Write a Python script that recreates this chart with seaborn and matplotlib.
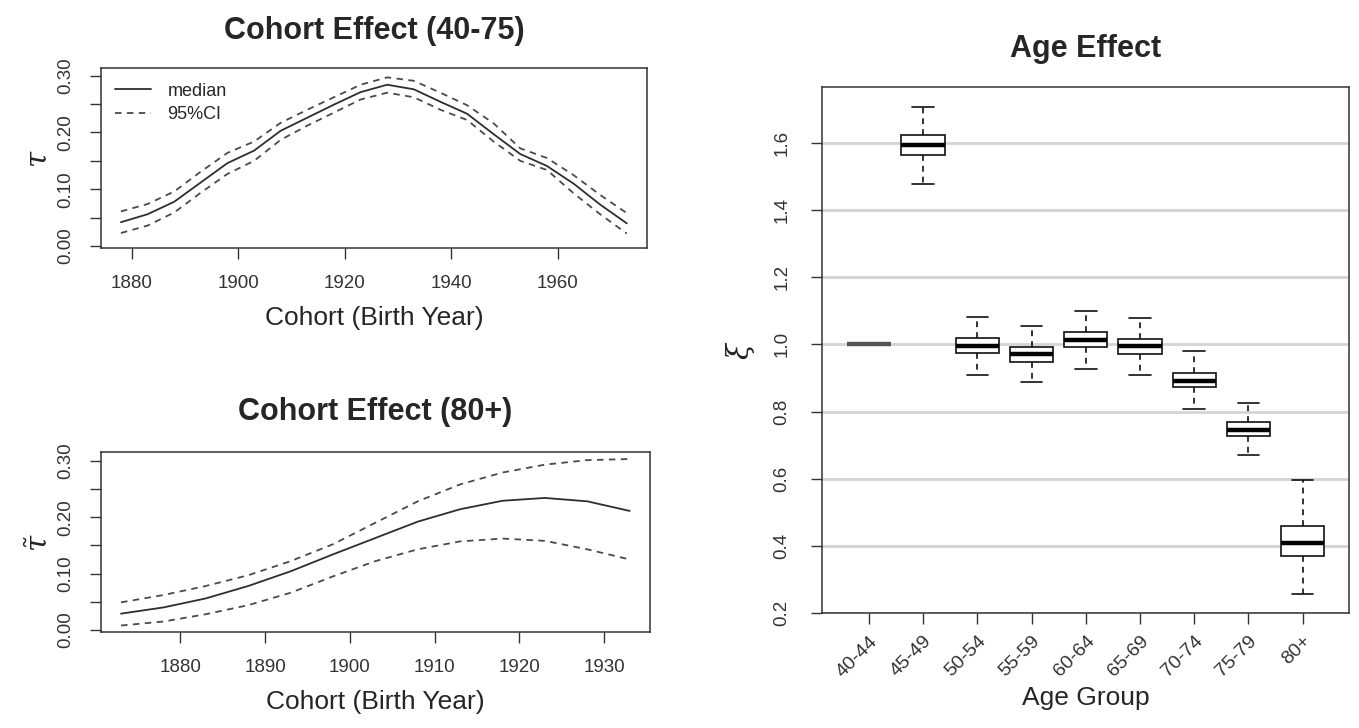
import matplotlib
matplotlib.use("Agg")
import matplotlib.pyplot as plt
import seaborn as sns
import pandas as pd
import numpy as np

# cohort effect, ages 40-75 (median and 95% band)
years_a = [1878, 1883, 1888, 1893, 1898, 1903, 1908, 1913, 1918, 1923,
           1928, 1933, 1938, 1943, 1948, 1953, 1958, 1963, 1968, 1973]
med_a = [0.042, 0.056, 0.078, 0.112, 0.146, 0.168, 0.203, 0.226, 0.249, 0.271,
         0.284, 0.276, 0.254, 0.233, 0.197, 0.162, 0.141, 0.110, 0.073, 0.040]
hi_a = [0.061, 0.074, 0.096, 0.131, 0.164, 0.184, 0.217, 0.240, 0.262, 0.284,
        0.297, 0.291, 0.270, 0.248, 0.216, 0.172, 0.155, 0.125, 0.090, 0.058]
lo_a = [0.023, 0.036, 0.059, 0.094, 0.127, 0.150, 0.187, 0.212, 0.235, 0.258,
        0.270, 0.262, 0.240, 0.222, 0.184, 0.150, 0.134, 0.093, 0.056, 0.022]

# cohort effect, ages 80+
years_b = [1873, 1878, 1883, 1888, 1893, 1898, 1903, 1908, 1913, 1918, 1923, 1928, 1933]
med_b = [0.029, 0.040, 0.056, 0.078, 0.104, 0.134, 0.163, 0.192, 0.214, 0.229, 0.234, 0.228, 0.211]
hi_b = [0.049, 0.062, 0.078, 0.097, 0.122, 0.152, 0.190, 0.228, 0.258, 0.279, 0.293, 0.301, 0.303]
lo_b = [0.008, 0.015, 0.028, 0.044, 0.066, 0.095, 0.122, 0.143, 0.157, 0.162, 0.158, 0.143, 0.125]

# age effect boxplots: whisker low, q1, median, q3, whisker high
age_groups = ["40-44", "45-49", "50-54", "55-59", "60-64", "65-69", "70-74", "75-79", "80+"]
box_lo = [1.0, 1.479, 0.909, 0.887, 0.927, 0.908, 0.809, 0.670, 0.255]
box_q1 = [1.0, 1.565, 0.973, 0.948, 0.993, 0.972, 0.873, 0.726, 0.369]
box_med = [1.0, 1.594, 0.995, 0.970, 1.014, 0.994, 0.892, 0.746, 0.409]
box_q3 = [1.0, 1.623, 1.018, 0.991, 1.036, 1.015, 0.916, 0.768, 0.459]
box_hi = [1.0, 1.708, 1.082, 1.054, 1.100, 1.080, 0.979, 0.824, 0.595]

sns.set_theme(style="white")
plt.rcParams["font.family"] = ["Liberation Sans", "DejaVu Sans"]
plt.rcParams["mathtext.fontset"] = "dejavuserif"
plt.rcParams["axes.edgecolor"] = "#333333"
plt.rcParams["axes.linewidth"] = 1.1
plt.rcParams["xtick.color"] = "#333333"
plt.rcParams["ytick.color"] = "#333333"

fig = plt.figure(figsize=(13.59, 7.28), dpi=100)
ax1 = fig.add_axes([0.0741, 0.6589, 0.4020, 0.2473])
ax2 = fig.add_axes([0.0741, 0.1315, 0.4042, 0.2473])
ax3 = fig.add_axes([0.6051, 0.1576, 0.3877, 0.7234])

line_c = "#2e2e2e"
dash_c = "#4a4a4a"
dash = (3.6, 3.0)


def cohort_panel(ax, yrs, med, hi, lo, title, ylab, xticks, xlim, ylim, pad, legend):
    sns.lineplot(x=yrs, y=med, ax=ax, color=line_c, lw=1.3,
                 label="median" if legend else None)
    sns.lineplot(x=yrs, y=hi, ax=ax, color=dash_c, lw=1.3,
                 label="95%CI" if legend else None)
    sns.lineplot(x=yrs, y=lo, ax=ax, color=dash_c, lw=1.3)
    for ln in ax.lines[1:]:
        ln.set_dashes(dash)
    ax.set_xlim(*xlim)
    ax.set_ylim(*ylim)
    ax.set_xticks(xticks)
    ax.set_yticks([0, 0.05, 0.10, 0.15, 0.20, 0.25, 0.30])
    ax.set_yticklabels(["0.00", "", "0.10", "", "0.20", "", "0.30"])
    ax.tick_params(axis="both", direction="out", length=8, width=1,
                   labelsize=13.5, pad=11, left=True, bottom=True)
    ax.tick_params(axis="y", labelrotation=90)
    for t in ax.get_yticklabels():
        t.set_va("center")
    ax.set_title(title, fontsize=22, fontweight="bold", pad=pad)
    ax.set_xlabel("Cohort (Birth Year)", fontsize=19, labelpad=10)
    ax.set_ylabel(ylab, fontsize=21, labelpad=3, color="#222222")
    if legend:
        ax.legend(loc="upper left", frameon=False, fontsize=13, handlelength=2.0,
                  handletextpad=0.9, labelspacing=0.35, borderaxespad=0.4)
    elif ax.get_legend() is not None:
        ax.get_legend().remove()


cohort_panel(ax1, years_a, med_a, hi_a, lo_a, "Cohort Effect (40-75)", r"$\tau$",
             [1880, 1900, 1920, 1940, 1960], (1874.2, 1976.8), (-0.004, 0.313), 21, True)
cohort_panel(ax2, years_b, med_b, hi_b, lo_b, "Cohort Effect (80+)", r"$\tilde{\tau}$",
             [1880, 1890, 1900, 1910, 1920, 1930], (1870.6, 1935.4), (-0.004, 0.315), 23, False)

# boxplot data: five-number summaries per group
rows = []
for g, a, b, c, d, e in zip(age_groups, box_lo, box_q1, box_med, box_q3, box_hi):
    for v in (a, b, c, d, e):
        rows.append({"age": g, "xi": v})
box_df = pd.DataFrame(rows)

ax3.set_axisbelow(True)
ax3.grid(axis="y", color="#d4d4d4", lw=2)
sns.boxplot(data=box_df, x="age", y="xi", order=age_groups, ax=ax3,
            whis=(0, 100), width=0.8, color="white", linecolor="#111111",
            linewidth=1.2, showfliers=False,
            medianprops=dict(linewidth=3.2, color="black"),
            whiskerprops=dict(linestyle=(0, (3.5, 3))))
# the fixed reference group shows as a grey bar
for ln in ax3.lines:
    xd = np.asarray(ln.get_xdata(), dtype=float)
    yd = np.asarray(ln.get_ydata(), dtype=float)
    if len(xd) and xd.max() < 0.5 and np.allclose(yd, 1.0):
        ln.set_color("#555555")
for p in ax3.patches:
    ext = p.get_path().get_extents(p.get_transform() - ax3.transData)
    if ext.x1 < 0.5:
        p.set_edgecolor("#555555")

ax3.set_xlim(-0.86, 8.86)
ax3.set_ylim(0.199, 1.768)
ax3.set_yticks([0.2, 0.4, 0.6, 0.8, 1.0, 1.2, 1.4, 1.6])
ax3.set_yticklabels(["0.2", "0.4", "0.6", "0.8", "1.0", "1.2", "1.4", "1.6"])
ax3.tick_params(axis="both", direction="out", length=8, width=1,
                labelsize=13.5, pad=15, left=True, bottom=True)
ax3.tick_params(axis="y", labelrotation=90)
for t in ax3.get_yticklabels():
    t.set_va("center")
plt.setp(ax3.get_xticklabels(), rotation=45, ha="right", rotation_mode="anchor", fontsize=14)
ax3.tick_params(axis="x", pad=6)
ax3.set_title("Age Effect", fontsize=22, fontweight="bold", pad=21)
ax3.set_xlabel("Age Group", fontsize=19, labelpad=4)
ax3.set_ylabel(r"$\xi$", fontsize=21, labelpad=12, color="#222222")

fig.savefig("out.png", dpi=100)
